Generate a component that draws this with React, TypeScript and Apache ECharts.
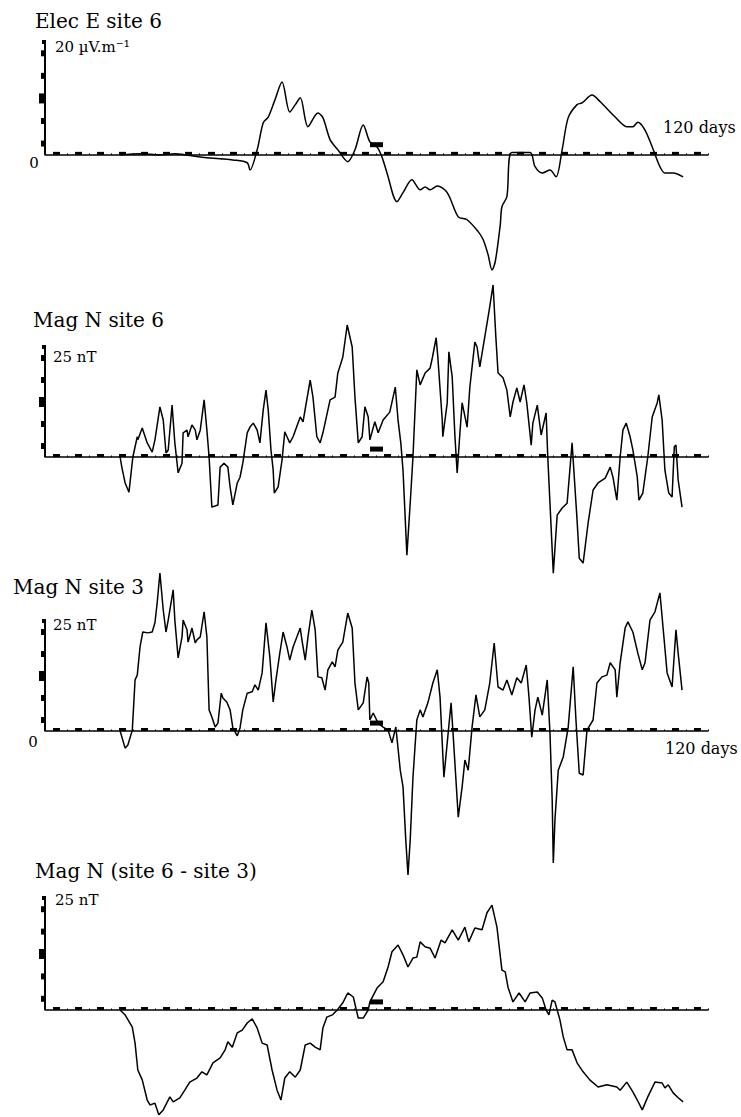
import React, { useEffect, useRef } from 'react';
import * as echarts from 'echarts';

// [day, value] pairs
const elecESite6: [number, number][] = [[13.6,0],[17.2,0.2],[20.8,0],[23.5,0.2],[28.1,-0.4],[29.3,-0.5],[31.7,-0.7],[34.0,-0.9],[36.6,-1.4],[37.1,-2.7],[38.4,0.9],[39.5,5.7],[40.4,6.7],[41.6,9.7],[42.9,12.9],[44.3,7.6],[45.3,8.9],[46.2,10.1],[47.6,5.0],[49.4,7.4],[50.3,6.6],[51.6,2.7],[53.0,0.9],[54.8,-1.2],[56.1,0.9],[57.6,5.3],[58.8,2.3],[60.1,1.4],[61.0,-0.4],[61.9,-3.2],[63.7,-8.3],[64.8,-6.7],[66.4,-4.4],[67.9,-6.2],[68.8,-5.7],[69.7,-6.2],[71.0,-5.5],[72.8,-6.7],[74.8,-11.0],[76.4,-11.5],[78.4,-13.6],[79.3,-15.0],[80.2,-17.7],[80.9,-20.4],[81.5,-18.9],[82.4,-12.4],[82.7,-9.2],[83.6,-7.4],[84.5,0.4],[87.8,0.4],[88.7,-2.1],[90.0,-3.2],[91.4,-2.7],[92.5,-3.9],[93.6,0.9],[94.7,6.6],[96.3,8.9],[97.2,9.2],[99.0,10.6],[100.5,9.4],[103.2,6.7],[105.3,5.0],[106.4,5.0],[107.3,5.8],[108.6,4.4],[110.1,0.9],[111.3,-2.1],[112.2,-3.2],[113.7,-3.2],[115.5,-3.9]];

const magNSite6: [number, number][] = [[13.6,0],[13.9,-2.3],[14.5,-5.9],[15.2,-8.0],[15.9,0],[16.7,4.6],[16.8,3.9],[17.6,6.6],[18.5,3.2],[19.4,1.1],[19.9,3.9],[20.8,11.4],[21.4,8.4],[21.9,0.9],[22.3,1.6],[23.0,11.8],[23.5,3.2],[24.1,-3.6],[24.8,-1.4],[25.0,5.5],[25.7,6.1],[25.9,4.6],[26.6,7.3],[27.2,6.1],[27.5,3.9],[28.1,6.1],[28.8,13.0],[29.3,6.1],[29.7,0],[30.2,-11.4],[31.3,-10.9],[31.7,-2.3],[32.4,-1.4],[33.1,-2.3],[33.5,-6.8],[34.0,-10.9],[34.8,-5.9],[35.3,-4.6],[35.8,-1.4],[36.6,5.5],[37.1,6.8],[37.7,7.7],[38.4,6.1],[38.9,3.2],[39.5,10.7],[40.0,15.2],[40.4,10.7],[40.9,1.6],[41.3,-3.0],[41.5,-8.2],[42.2,-6.8],[42.9,-0.7],[43.4,5.7],[43.8,4.6],[44.3,3.2],[44.9,4.6],[46.2,9.1],[46.7,8.0],[48.0,17.5],[48.5,13.6],[49.2,4.6],[49.8,3.2],[50.3,5.5],[51.6,13.0],[52.5,13.6],[53.0,19.1],[53.9,22.7],[54.7,30.0],[55.6,25.0],[56.1,13.6],[56.7,3.2],[57.4,4.6],[57.9,11.4],[58.5,9.1],[58.8,3.9],[59.7,8.0],[60.3,5.5],[61.2,8.4],[62.4,10.2],[63.4,15.9],[63.9,8.4],[64.4,3.2],[64.8,-3.0],[65.5,-22.3],[66.1,-10.5],[66.6,0],[67.3,19.8],[67.9,16.4],[68.8,19.1],[69.7,20.2],[70.1,22.5],[70.8,27.1],[71.1,22.7],[71.9,8.4],[72.0,4.6],[72.8,12.3],[73.1,23.9],[73.7,18.2],[74.2,4.6],[74.6,-3.6],[75.1,5.5],[75.5,12.3],[76.4,6.8],[76.9,15.9],[77.8,26.1],[78.2,25.0],[78.7,20.5],[79.6,27.3],[80.4,33.4],[81.1,39.1],[81.6,27.3],[82.0,19.1],[82.9,18.0],[83.6,15.2],[84.2,9.1],[84.7,12.5],[85.4,15.7],[86.0,12.5],[86.7,16.4],[87.2,12.3],[88.0,2.7],[88.3,7.7],[89.1,11.8],[89.8,5.0],[90.7,10.0],[91.0,0],[92.0,-26.4],[92.7,-13.2],[93.6,-11.6],[94.5,-10.5],[95.4,3.2],[96.3,-14.3],[96.7,-23.0],[97.4,-24.1],[98.3,-15.0],[99.2,-7.5],[100.1,-5.9],[101.4,-4.8],[102.3,-2.3],[102.8,-4.6],[103.5,-9.8],[104.1,0],[104.6,6.1],[105.2,7.7],[105.9,4.6],[106.4,1.6],[107.2,-4.6],[107.5,-9.8],[108.2,-8.2],[109.1,0],[109.9,9.1],[110.8,12.3],[111.1,14.1],[111.7,8.4],[112.2,-3.0],[112.9,-8.2],[113.5,-9.1],[113.9,2.3],[114.2,2.7],[114.6,-5.2],[115.3,-11.4]];

const magNSite3: [number, number][] = [[13.6,0],[14.5,-3.9],[15.0,-3.2],[15.8,0.2],[16.3,11.6],[16.7,12.7],[17.2,19.1],[17.7,22.5],[18.6,22.3],[19.4,22.5],[19.9,24.6],[20.3,29.1],[20.8,35.9],[21.4,27.5],[21.9,22.5],[22.3,25.2],[23.2,32.1],[23.5,25.2],[24.1,16.6],[24.8,21.4],[25.0,25.2],[25.7,23.0],[25.9,20.2],[26.6,23.4],[27.2,20.0],[27.5,20.7],[28.1,21.4],[28.8,27.1],[29.3,21.4],[29.7,4.8],[30.2,3.2],[30.8,0.9],[31.3,1.8],[31.9,8.6],[32.2,7.5],[32.9,6.6],[33.5,4.8],[34.0,0.7],[34.8,-1.1],[35.3,0.7],[35.8,4.8],[36.6,8.6],[37.5,8.9],[38.0,10.5],[38.6,9.3],[39.3,13.2],[40.0,24.6],[40.7,16.8],[41.3,6.6],[41.8,11.6],[42.5,17.7],[43.1,22.5],[43.8,19.1],[44.3,16.1],[44.9,19.1],[46.2,23.4],[46.5,20.7],[47.1,16.1],[47.6,21.4],[48.3,27.5],[48.9,23.0],[49.4,12.3],[50.1,12.1],[50.7,9.3],[51.2,13.9],[52.0,15.7],[52.5,14.6],[53.0,18.4],[53.9,20.2],[54.8,26.8],[55.6,23.4],[56.1,10.9],[56.7,4.8],[57.6,6.4],[58.3,12.3],[58.6,10.9],[58.8,2.5],[59.4,4.1],[60.3,1.8],[61.2,0.9],[62.1,0.2],[62.8,-2.7],[63.5,0.9],[64.3,-8.9],[64.8,-12.7],[65.3,-24.8],[65.7,-32.7],[66.1,-24.8],[66.6,-10.5],[67.3,2.5],[67.9,4.8],[68.4,3.2],[69.3,6.4],[70.2,10.9],[71.0,13.9],[71.5,7.7],[72.2,-10.5],[72.9,-1.4],[73.5,6.4],[73.9,-1.4],[74.8,-19.6],[75.5,-12.7],[76.0,-6.6],[76.6,-8.9],[77.3,0.9],[78.0,8.2],[78.7,3.2],[79.6,4.8],[80.5,10.9],[81.3,20.0],[82.0,10.0],[82.9,9.3],[83.6,11.6],[84.5,8.2],[85.4,12.1],[86.2,10.9],[87.1,15.0],[87.6,7.7],[88.1,-1.4],[88.7,4.8],[89.2,7.7],[90.0,3.6],[90.9,11.6],[91.4,-0.5],[91.8,-15.7],[92.0,-30.0],[92.3,-20.2],[92.9,-8.9],[93.8,-5.9],[94.7,0.9],[95.6,14.6],[96.1,2.5],[96.7,-9.6],[97.4,-10.0],[98.1,0.2],[99.2,2.5],[99.9,10.9],[100.8,12.3],[101.7,12.7],[102.3,15.5],[103.2,13.9],[103.5,7.7],[104.1,15.5],[105.0,23.4],[105.5,24.8],[106.4,22.5],[107.3,17.7],[108.1,13.9],[108.6,15.5],[109.5,25.2],[110.4,27.1],[111.3,31.4],[111.9,23.0],[112.6,13.2],[113.5,10.0],[114.2,23.0],[114.6,17.7],[115.3,9.3]];

const magNDiff: [number, number][] = [[13.6,0],[14.5,-1.1],[15.8,-3.8],[16.3,-7.4],[16.8,-13.4],[17.6,-15.6],[18.5,-20.1],[19.0,-21.2],[19.9,-20.8],[20.6,-23.4],[21.4,-22.3],[22.6,-19.4],[23.2,-20.5],[24.4,-19.6],[25.3,-17.9],[26.2,-16.1],[27.5,-15.2],[28.4,-13.8],[29.3,-14.5],[30.4,-11.8],[31.7,-10.7],[32.6,-8.9],[33.1,-7.1],[33.9,-8.3],[34.8,-5.1],[35.7,-4.5],[36.6,-2.9],[37.5,-2.0],[38.4,-4.0],[39.3,-7.4],[40.2,-7.8],[41.1,-13.4],[42.0,-17.9],[42.7,-20.1],[43.4,-15.2],[44.3,-13.8],[45.3,-15.0],[46.2,-13.4],[47.1,-7.8],[48.0,-7.4],[48.9,-8.3],[49.8,-8.9],[50.3,-4.0],[51.0,-1.6],[52.0,-1.1],[52.9,0],[53.9,1.6],[54.8,3.8],[55.8,2.9],[56.7,-1.8],[57.6,-1.8],[58.5,0],[58.8,1.8],[60.1,4.9],[61.2,6.3],[62.1,9.6],[62.8,13.0],[63.9,14.5],[64.8,12.3],[65.7,9.6],[66.6,11.6],[67.3,11.8],[67.9,15.2],[68.8,14.1],[69.7,13.8],[70.6,11.6],[71.7,15.6],[72.4,15.0],[73.7,17.9],[74.8,15.6],[76.0,18.5],[76.7,15.2],[77.8,18.3],[79.1,17.9],[80.0,21.7],[80.9,23.4],[81.8,18.5],[82.7,8.9],[83.3,8.5],[83.8,5.1],[84.7,1.8],[85.8,3.8],[86.9,1.8],[87.8,3.8],[89.1,4.0],[90.0,2.7],[90.7,0],[91.2,-1.1],[91.8,2.2],[92.3,1.8],[93.2,-2.2],[93.8,-6.0],[94.5,-8.9],[95.4,-8.9],[96.3,-11.8],[97.4,-13.8],[98.6,-15.6],[100.1,-17.2],[101.7,-16.7],[103.5,-17.2],[104.1,-17.9],[105.3,-16.1],[106.4,-18.3],[107.2,-20.1],[108.1,-22.3],[109.1,-19.4],[110.4,-16.1],[111.7,-16.3],[112.2,-17.4],[112.8,-16.7],[113.7,-18.5],[114.6,-19.6],[115.5,-20.5]];

const titles = ['Elec E site 6', 'Mag N site 6', 'Mag N site 3', 'Mag N (site 6 - site 3)'];
const unitLabels = ['20 µV.m⁻¹', '25 nT', '25 nT', '25 nT'];
const scaleTops = [20, 25, 25, 25];
const yTickValues1 = [2, 6, 10, 14, 18];
const yTickValues25 = [2.5, 7.5, 12.5, 17.5, 22.5];
const bigTicks = [10, 12.5, 12.5, 12.5];
const markerDay = 60;
const markerValue = 1.8;
const xTickLabelEnd = '120 days';
const zeroLabel = '0';

const FONT = '"DejaVu Serif", "Liberation Serif", serif';

const panels = [
  { data: elecESite6, yMin: -22, yMax: 20, ticks: yTickValues1, top: 42, height: 237, smooth: 0.3 },
  { data: magNSite6, yMin: -28, yMax: 40, ticks: yTickValues25, top: 281, height: 299.2, smooth: 0 },
  { data: magNSite3, yMin: -34, yMax: 37, ticks: yTickValues25, top: 568.2, height: 312.4, smooth: 0 },
  { data: magNDiff, yMin: -24, yMax: 25, ticks: yTickValues25, top: 898, height: 219.5, smooth: 0 },
];

export default function App() {
  const ref = useRef<HTMLDivElement>(null);
  useEffect(() => {
    document.body.style.margin = '0';
    const chart = echarts.init(ref.current!, null, { renderer: 'svg' });
    const grid = panels.map((p) => ({
      left: 45, width: 663, top: p.top, height: p.height, containLabel: false, outerBoundsMode: 'none',
    }));
    const xAxis = panels.map((_, i) => ({
      type: 'value', gridIndex: i, min: 0, max: 120, interval: 4,
      axisLine: { show: true, onZero: true, lineStyle: { color: '#000', width: 1.5 } },
      axisTick: { show: true, inside: true, length: 1.5, lineStyle: { color: '#000', width: 1 } },
      minorTick: { show: true, splitNumber: 2, length: 3, lineStyle: { color: '#000', width: 7 } },
      axisLabel: { show: false }, splitLine: { show: false }, minorSplitLine: { show: false },
    }));
    const yAxis = panels.map((p, i) => ({
      type: 'value', gridIndex: i, min: p.yMin, max: p.yMax,
      axisLine: { show: false }, axisTick: { show: false }, axisLabel: { show: false }, splitLine: { show: false },
    }));
    const series = panels.map((p, i) => ({
      type: 'line', xAxisIndex: i, yAxisIndex: i, data: p.data, showSymbol: false, smooth: p.smooth,
      lineStyle: { color: '#000', width: 1.5 }, silent: true,
      markLine: {
        silent: true, symbol: ['none', 'none'], label: { show: false },
        lineStyle: { color: '#000', width: 2, type: 'solid' },
        data: [[{ coord: [0, 0] }, { coord: [0, scaleTops[i]] }]],
      },
      markPoint: {
        silent: true, label: { show: false }, itemStyle: { color: '#000' },
        data: [
          ...p.ticks.map((v) => ({
            coord: [0, v], symbol: 'rect',
            symbolSize: v === bigTicks[i] ? [6, 10] : [4, 6],
            symbolOffset: v === bigTicks[i] ? [-3, 0] : [-2, 0],
          })),
          { coord: [0, scaleTops[i]], symbol: 'rect', symbolSize: [4, 4], symbolOffset: [-1, 0] },
          { coord: [markerDay, markerValue], symbol: 'rect', symbolSize: [13, 5] },
        ],
      },
    }));
    const txt = (text: string, x: number, y: number, size: number, align = 'left') => ({
      type: 'text', x, y, silent: true,
      style: { text, font: `${size}px ${FONT}`, fill: '#000', align, verticalAlign: 'middle' },
    });
    const graphic = [
      txt(titles[0], 35, 21, 20),
      txt(unitLabels[0], 55, 47, 15),
      txt(zeroLabel, 34, 163, 15, 'center'),
      txt(xTickLabelEnd, 663, 127, 16),
      txt(titles[1], 33, 320, 20),
      txt(unitLabels[1], 53, 357, 15),
      txt(titles[2], 13, 587, 20),
      txt(unitLabels[2], 53, 625, 15),
      txt(zeroLabel, 33, 742, 15, 'center'),
      txt(xTickLabelEnd, 665, 748, 16),
      txt(titles[3], 35, 871, 20),
      txt(unitLabels[3], 55, 900, 15),
    ];
    chart.setOption({
      animation: false,
      backgroundColor: '#fff',
      grid, xAxis, yAxis, series, graphic,
    } as any);
    return () => chart.dispose();
  }, []);
  return <div ref={ref} style={{ width: 741, height: 1117 }} />;
}
